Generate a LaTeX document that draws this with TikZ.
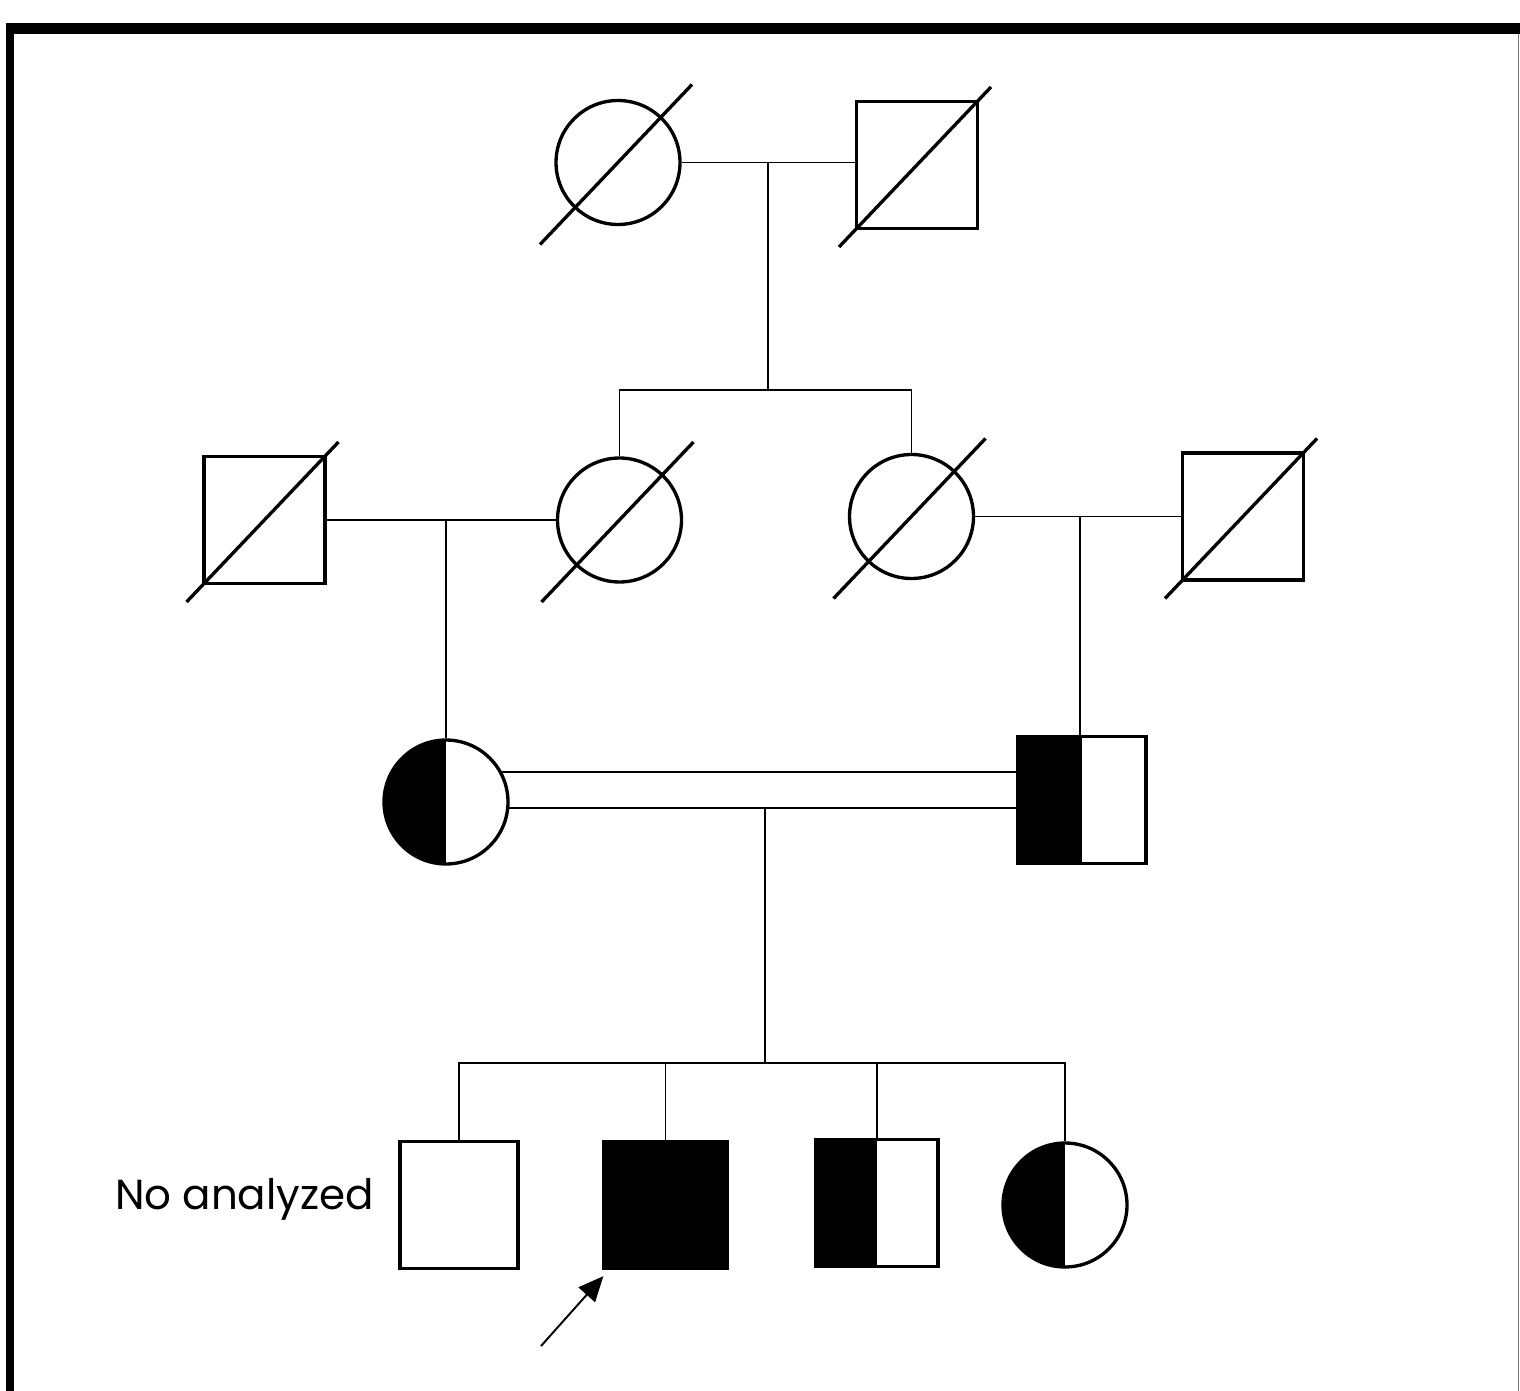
\documentclass[tikz,border=0pt]{standalone}
\usepackage{fontspec}
\setmainfont{Poppins}
\usetikzlibrary{arrows.meta}

\begin{document}
\begin{tikzpicture}[x=0.02cm,y=-0.02cm]

    \tikzset{
      female/.style={
        draw,
        circle,
        fill=white,
        line width=1.9pt,
        inner sep=0pt,
        minimum size=2.48cm,
      },
      male/.style={
        draw,
        rectangle,
        fill=white,
        line width=1.9pt,
        inner sep=0pt,
        minimum width=2.42cm,
        minimum height=2.54cm,
      },
      halfaff/.style={
        path picture={\fill[black] (path picture bounding box.south west) rectangle (path picture bounding box.north);},
      },
      dead/.style={line width=1.9pt},
      link/.style={line width=1.1pt},
    }
    \useasboundingbox (0,0) rectangle (1520,1391);
    % frame
    \fill (6,23) rectangle (1520,34);
    \fill (6,23) rectangle (14,1391);
    \draw[gray,line width=0.6pt] (1518.5,34) -- (1518.5,1391);

    % generation I
    \node[female] (gm) at (618,162.5) {};
    \node[male] (gf) at (917,165) {};
    % generation II
    \node[male] (lh) at (264.5,520) {};
    \node[female] (ca) at (619.5,520) {};
    \node[female] (cb) at (911.5,516.5) {};
    \node[male] (rh) at (1243,516.5) {};
    \foreach \n in {gm,gf,lh,ca,cb,rh}
      \draw[dead] ([shift={(-78,82)}]\n.center) -- ([shift={(74,-78)}]\n.center);
    % generation III
    \node[female,halfaff] (mo) at (446,802) {};
    \node[male,halfaff,minimum width=2.56cm] (fa) at (1082,800) {};
    % generation IV
    \node[male,minimum width=2.36cm] (s1) at (459,1205) {};
    \node[male,fill=black,minimum width=2.46cm] (pro) at (665.5,1205) {};
    \node[male,halfaff,minimum width=2.44cm] (s3) at (877,1203) {};
    \node[female,halfaff] (s4) at (1065,1205) {};
    \node[anchor=east,font=\fontsize{23.9}{28}\selectfont] (lbl) at (380,1199) {No analyzed};

    % lines
    \coordinate (u1) at (768,162.5);
    \coordinate (k1) at (768,390);
    \draw[link] (gm.east) -- (gm.east -| gf.west);
    \draw[link] (u1) -- (k1);
    \draw[link] (ca.north) |- (k1) -| (cb.north);

    \coordinate (u2) at (446,520);
    \draw[link] (lh.east) -- (lh.east -| ca.west);
    \draw[link] (u2) -- (mo.north);
    \coordinate (u3) at (1080,517);
    \draw[link] (cb.east) -- (cb.east -| rh.west);
    \draw[link] (u3) -- (u3 |- fa.north);

    \draw[link] (mo.28) -- (mo.28 -| fa.west);
    \draw[link] (mo.-5) -- (mo.-5 -| fa.west);
    \coordinate (u4) at (765,807);
    \coordinate (k4) at (765,1063);
    \draw[link] (u4) -- (k4);
    \draw[link] (s1.north) |- (k4) -| (s4.north);
    \draw[link] (pro.north) -- (pro.north |- k4);
    \draw[link] (s3.north) -- (s3.north |- k4);

    \coordinate (pb) at (541,1346);
    \draw[link,-{Triangle[length=0.5cm,width=0.44cm]}] (pb) -- ([shift={(1,6)}]pro.south west);

\end{tikzpicture}
\end{document}
